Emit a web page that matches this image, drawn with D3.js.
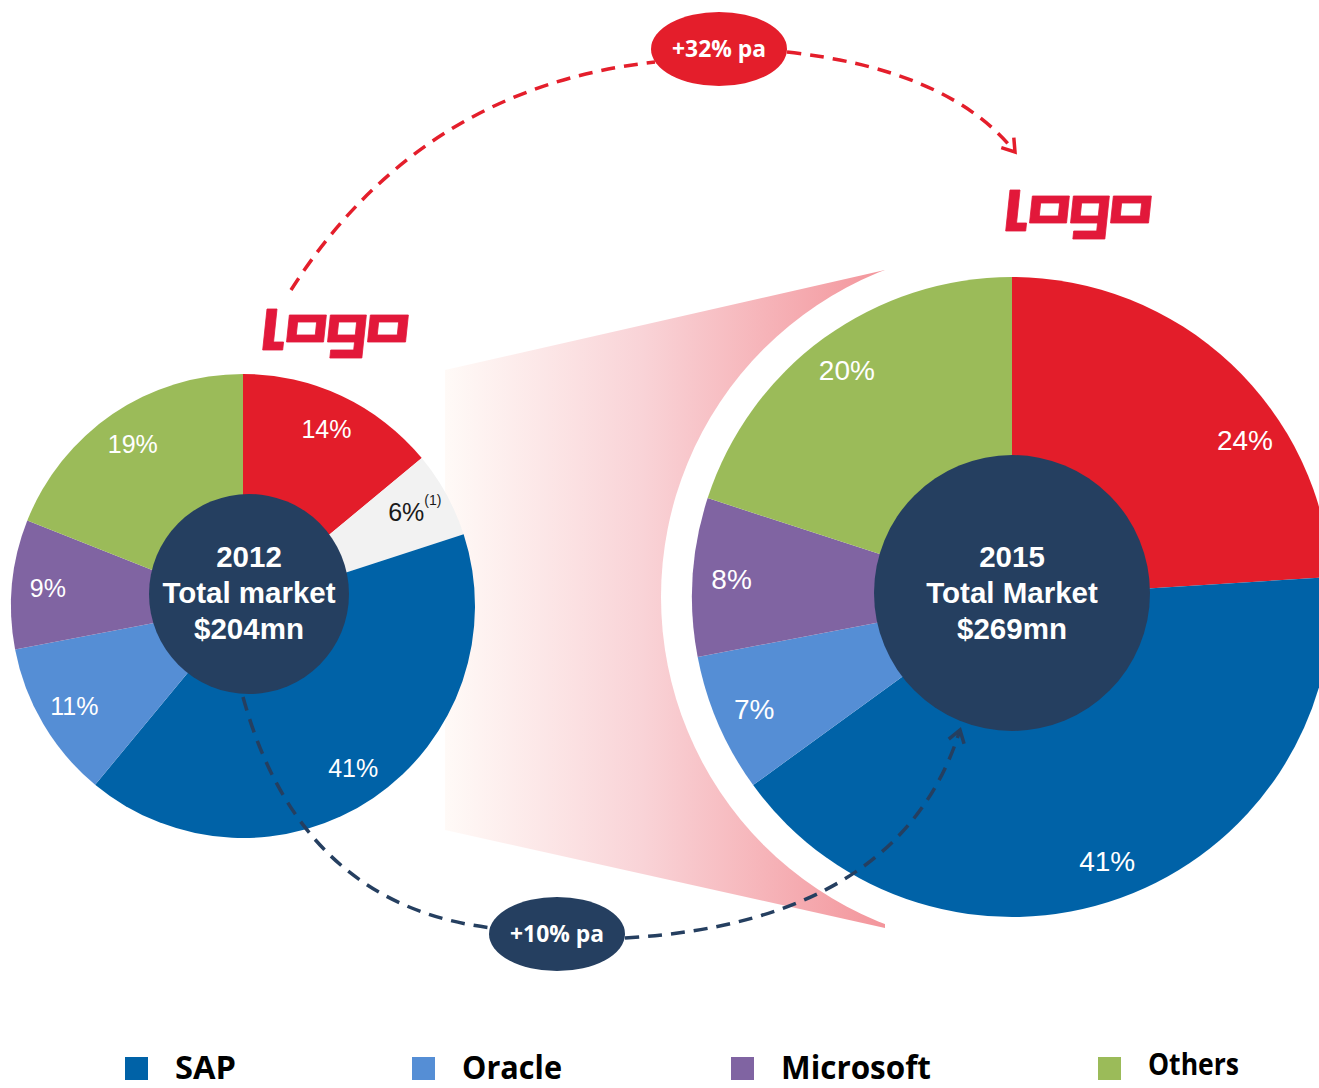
<!DOCTYPE html>
<html>
<head>
<meta charset="utf-8">
<script src="https://cdnjs.cloudflare.com/ajax/libs/d3/7.8.5/d3.min.js"></script>
<style>
  html, body { margin: 0; padding: 0; background: #fff; }
  svg { display: block; }
</style>
</head>
<body>
<svg width="1319" height="1088"></svg>
<script>
    // data
    let companies = ["Logo", "Other", "SAP", "Oracle", "Microsoft", "Others"];
    let share2012 = [14, 6, 41, 11, 9, 19];
    let share2015 = [24, 0, 41, 7, 8, 20];
    let years = [2012, 2015];
    let marketTitles = ["Total market", "Total Market"];
    let marketTotals = ["$204mn", "$269mn"];
    let growthLabels = ["+32% pa", "+10% pa"];
    let legendNames = ["SAP", "Oracle", "Microsoft", "Others"];

    let width = 1319;
    let height = 1088;

    let color = d3.scaleOrdinal()
        .domain(companies)
        .range(["#e31d2a", "#f2f2f2", "#0062a7", "#558ed5", "#8064a2", "#9bbb59"])

    let navy = "#253f60";
    let red = "#e41e2b";

    let svg = d3.select("svg")

    let pies = [
        { year: years[0], title: marketTitles[0], total: marketTotals[0], values: share2012,
          cx: 243, cy: 606, r: 232, hubX: 249, hubY: 594, hubR: 100, labelR: 196, fontSize: 25 },
        { year: years[1], title: marketTitles[1], total: marketTotals[1], values: share2015,
          cx: 1012, cy: 597, r: 320, hubX: 1012, hubY: 593, hubR: 138, labelR: 281, fontSize: 28 }
    ]

    let defs = svg.append("defs")

    let grad = defs.append("linearGradient")
        .attr("id", "funnel")
        .attr("gradientUnits", "userSpaceOnUse")
        .attr("x1", 445).attr("x2", 885).attr("y1", 0).attr("y2", 0)
    grad.append("stop").attr("offset", "0%").attr("stop-color", "#fffaf7")
    grad.append("stop").attr("offset", "45%").attr("stop-color", "#f9d3d7")
    grad.append("stop").attr("offset", "100%").attr("stop-color", "#f3959b")

    function marker(id, c) {
        defs.append("marker")
            .attr("id", id)
            .attr("markerUnits", "userSpaceOnUse")
            .attr("viewBox", "-14 -10 18 20")
            .attr("markerWidth", 18)
            .attr("markerHeight", 20)
            .attr("refX", 0).attr("refY", 0)
            .attr("orient", "auto")
            .append("path")
            .attr("d", "M-12,-8L0,0L-12,8")
            .attr("fill", "none")
            .attr("stroke", c)
            .attr("stroke-width", 3.5)
    }
    marker("arrowRed", red)
    marker("arrowNavy", navy)

    // zoom funnel between the two pies
    svg.append("path")
        .attr("d", "M445,370L885,270L885,928L445,830Z")
        .attr("fill", "url(#funnel)")

    svg.append("circle")
        .attr("cx", pies[1].cx).attr("cy", pies[1].cy)
        .attr("r", 351)
        .attr("fill", "#fff")

    let pie = d3.pie().sort(null).value(d => d.value)

    pies.forEach(function (p) {
        let rows = companies.map((c, i) => ({ name: c, value: p.values[i] }))
            .filter(d => d.value > 0)
        let arcs = pie(rows)

        let arc = d3.arc().innerRadius(0).outerRadius(p.r)

        let g = svg.append("g")
            .attr("transform", `translate(${p.cx}, ${p.cy})`)

        g.selectAll("path")
            .data(arcs)
            .join("path")
            .attr("d", arc)
            .attr("fill", d => color(d.data.name))

        g.selectAll("text")
            .data(arcs)
            .join("text")
            .attr("transform", d => {
                let a = (d.startAngle + d.endAngle) / 2
                // label of the clipped red slice sits lower in the original
                if (p.year == 2015 && d.data.name == "Logo") { a = 56 * Math.PI / 180 }
                return `translate(${p.labelR * Math.sin(a)}, ${-p.labelR * Math.cos(a)})`
            })
            .attr("text-anchor", "middle")
            .attr("dominant-baseline", "central")
            .style("font-family", "'Liberation Sans', Arial, sans-serif")
            .style("font-size", p.fontSize + "px")
            .style("fill", d => d.data.name == "Other" ? "#1a1a1a" : "#fff")
            .each(function (d) {
                let t = d3.select(this)
                t.append("tspan").text(d.data.value + "%")
                if (d.data.name == "Other") {
                    t.append("tspan")
                        .attr("dy", -12)
                        .style("font-size", "14px")
                        .text("(1)")
                }
            })

        svg.append("circle")
            .attr("cx", p.hubX).attr("cy", p.hubY)
            .attr("r", p.hubR)
            .attr("fill", navy)

        let lines = [String(p.year), p.title, p.total]
        svg.append("g")
            .selectAll("text")
            .data(lines)
            .join("text")
            .attr("x", p.hubX)
            .attr("y", (d, i) => 567 + i * 36)
            .attr("text-anchor", "middle")
            .style("font-family", "'Liberation Sans', Arial, sans-serif")
            .style("font-weight", "bold")
            .style("font-size", "29.5px")
            .style("fill", "#fff")
            .text(d => d)
    })

    // growth arrows
    let growth = [
        { d: "M291,290Q420,88 655,62", d2: "M787,52Q950,70 1015,152", c: red, m: "arrowRed",
          ex: 719, ey: 49, label: growthLabels[0] },
        { d: "M243,697Q300,905 492,928", d2: "M625,938Q900,922 960,730", c: navy, m: "arrowNavy",
          ex: 557, ey: 934, label: growthLabels[1] }
    ]

    growth.forEach(function (a) {
        svg.append("path")
            .attr("d", a.d)
            .attr("fill", "none")
            .attr("stroke", a.c)
            .attr("stroke-width", 3.5)
            .attr("stroke-dasharray", "14 9")
        svg.append("path")
            .attr("d", a.d2)
            .attr("fill", "none")
            .attr("stroke", a.c)
            .attr("stroke-width", 3.5)
            .attr("stroke-dasharray", "14 9")
            .attr("marker-end", `url(#${a.m})`)
        svg.append("ellipse")
            .attr("cx", a.ex).attr("cy", a.ey)
            .attr("rx", 68).attr("ry", 37)
            .attr("fill", a.c)
        svg.append("text")
            .attr("x", a.ex).attr("y", a.ey + 8)
            .attr("text-anchor", "middle")
            .attr("textLength", 94)
            .attr("lengthAdjust", "spacingAndGlyphs")
            .style("font-family", "'Open Sans', sans-serif")
            .style("font-weight", "bold")
            .style("font-size", "23px")
            .style("fill", "#fff")
            .text(a.label)
    })

    // logo wordmarks
    let logoShape = "M4,0H14V33H24V41H4Z" +
        "M27,6H64V33H27Z M36,13V26H55V13Z" +
        "M68,6H104V49H72V41H95V33H68Z M77,13V26H95V13Z" +
        "M108,6H146V33H108Z M117,13V26H137V13Z"

    let logos = [[263, 309], [1006, 190]]
    svg.append("g")
        .selectAll("path")
        .data(logos)
        .join("path")
        .attr("transform", d => `translate(${d[0]}, ${d[1]}) skewX(-6)`)
        .attr("d", logoShape)
        .attr("fill", "#e2183a")
        .attr("fill-rule", "evenodd")
        .attr("stroke", "#e2183a")
        .attr("stroke-width", 0.8)
        .attr("stroke-linejoin", "round")

    // legend
    let legendX = d3.scaleOrdinal().domain(legendNames).range([125, 412, 731, 1098])
    let legendW = d3.scaleOrdinal().domain(legendNames).range([61, 100, 150, 91])

    let legend = svg.append("g")
        .selectAll("g")
        .data(legendNames)
        .join("g")
        .attr("transform", d => `translate(${legendX(d)}, 1057)`)

    legend.append("rect")
        .attr("width", 23).attr("height", 23)
        .attr("fill", d => color(d))

    legend.append("text")
        .attr("x", 50)
        .attr("y", d => d == "Others" ? 18 : 22)
        .attr("textLength", d => legendW(d))
        .attr("lengthAdjust", "spacingAndGlyphs")
        .style("font-family", "'Open Sans', sans-serif")
        .style("font-weight", "bold")
        .style("font-size", d => d == "Others" ? "31px" : "33px")
        .style("fill", "#000")
        .text(d => d)
</script>
</body>
</html>
